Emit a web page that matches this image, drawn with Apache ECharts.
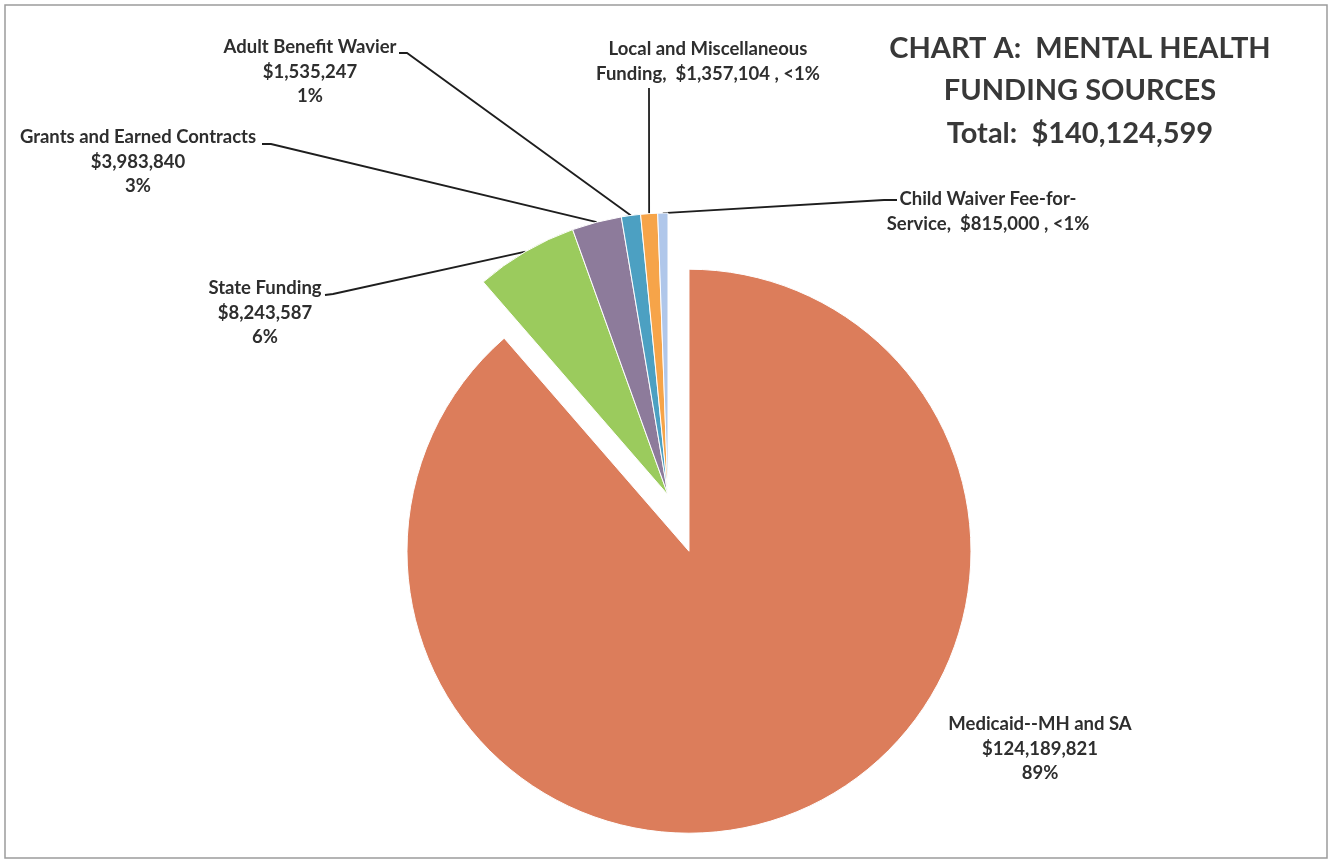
<!DOCTYPE html>
<html>
<head>
<meta charset="utf-8">
<script src="https://cdn.jsdelivr.net/npm/echarts@6/dist/echarts.min.js"></script>
<style>
  html, body { margin: 0; padding: 0; background: #fff; }
  #chart { width: 1330px; height: 860px; }
</style>
</head>
<body>
<div id="chart"></div>
<script>
// Funding sources, clockwise from 12 o'clock
const sources = [
  'Medicaid--MH and SA',
  'State Funding',
  'Grants and Earned Contracts',
  'Adult Benefit Wavier',
  'Local and Miscellaneous\nFunding',
  'Child Waiver Fee-for-\nService'
];
const amounts = [124189821, 8243587, 3983840, 1535247, 1357104, 815000];
const sliceColors = ['#DC7D5B', '#9BCB5D', '#8D7B9B', '#4CA0C2', '#F6A449', '#B0C7EA'];
// 'stack' = name / amount / share on three lines, 'inline' = amount and share after the name
const labelStyles = ['stack', 'stack', 'stack', 'stack', 'inline', 'inline'];

const total = amounts.reduce((a, b) => a + b, 0);
const money = v => '$' + v.toLocaleString('en-US');
const share = v => {
  const p = v / total * 100;
  return p < 1 ? '<1%' : Math.round(p) + '%';
};

// Label placement (block centre x, block top y) and leader-line elbow/end
const labelPlaces = [
  { x: 1040, y: 712, line: null },
  { x: 265, y: 276, line: [[333, 294], [325, 295]] },
  { x: 138, y: 125, line: [[271, 144], [262, 144]] },
  { x: 310, y: 35, line: [[407, 53], [399, 53]] },
  { x: 708, y: 37, line: [[649, 90], [649, 88]] },
  { x: 988, y: 187, line: [[884, 200], [897, 200]] }
];

const TEXT = '#2e2e2e';
const FONT = 'Lato, "Open Sans", sans-serif';
const CENTER = [668, 495];
const RADIUS = 282;
const EXPLODE = 60;   // how far the large slice is pulled out
const EXPLODED = 0;   // index of the pulled-out slice

// Pull-out direction: the middle of the exploded slice, measured clockwise from 12 o'clock
const before = amounts.slice(0, EXPLODED).reduce((a, b) => a + b, 0);
const midTheta = (before + amounts[EXPLODED] / 2) / total * 2 * Math.PI;
const explodedCenter = [
  CENTER[0] + EXPLODE * Math.sin(midTheta),
  CENTER[1] - EXPLODE * Math.cos(midTheta)
];

const labelText = i => labelStyles[i] === 'inline'
  ? sources[i] + ',  ' + money(amounts[i]) + ' , ' + share(amounts[i])
  : sources[i] + '\n' + money(amounts[i]) + '\n' + share(amounts[i]);

const labelBase = {
  color: TEXT,
  fontFamily: FONT,
  fontWeight: 'bold',
  fontSize: 18.5,
  lineHeight: 24.5,
  align: 'center',
  formatter: p => labelText(p.dataIndex)
};

const layoutFor = params => {
  const place = labelPlaces[params.dataIndex];
  const out = { x: place.x, y: place.y, align: 'center', verticalAlign: 'top' };
  if (place.line && params.labelLinePoints) {
    out.labelLinePoints = [params.labelLinePoints[0], place.line[0], place.line[1]];
  }
  return out;
};

// One pie per group: the slices that stay in place, and the pulled-out slice
const buildSeries = (visible, center) => ({
  type: 'pie',
  center: center,
  radius: RADIUS,
  startAngle: 90,
  clockwise: true,
  silent: true,
  avoidLabelOverlap: false,
  itemStyle: { borderColor: '#ffffff', borderWidth: 1 },
  label: Object.assign({ show: true, position: 'outside' }, labelBase),
  labelLine: { show: true, lineStyle: { color: '#1e1e1e', width: 1.8 } },
  labelLayout: layoutFor,
  data: sources.map((name, i) => {
    const on = visible(i);
    return {
      name: name,
      value: amounts[i],
      itemStyle: on
        ? { color: sliceColors[i] }
        : { color: 'rgba(0,0,0,0)', borderWidth: 0 },
      label: { show: on },
      labelLine: { show: on && labelPlaces[i].line !== null }
    };
  })
});

const chart = echarts.init(document.getElementById('chart'), null, { renderer: 'canvas' });

chart.setOption({
  backgroundColor: '#ffffff',
  animation: false,
  title: {
    text: 'CHART A:  MENTAL HEALTH\nFUNDING SOURCES\nTotal:  ' + money(total),
    left: 1080,
    top: 27,
    textAlign: 'center',
    padding: 0,
    textStyle: {
      color: '#383838',
      fontFamily: FONT,
      fontWeight: 'bold',
      fontSize: 29,
      lineHeight: 42.5,
      align: 'center'
    }
  },
  graphic: [{
    type: 'rect',
    shape: { x: 5, y: 5, width: 1322, height: 853 },
    style: { fill: 'none', stroke: '#9c9c9c', lineWidth: 1.5 },
    silent: true
  }],
  series: [
    buildSeries(i => i !== EXPLODED, CENTER),
    buildSeries(i => i === EXPLODED, explodedCenter)
  ]
});
</script>
</body>
</html>
